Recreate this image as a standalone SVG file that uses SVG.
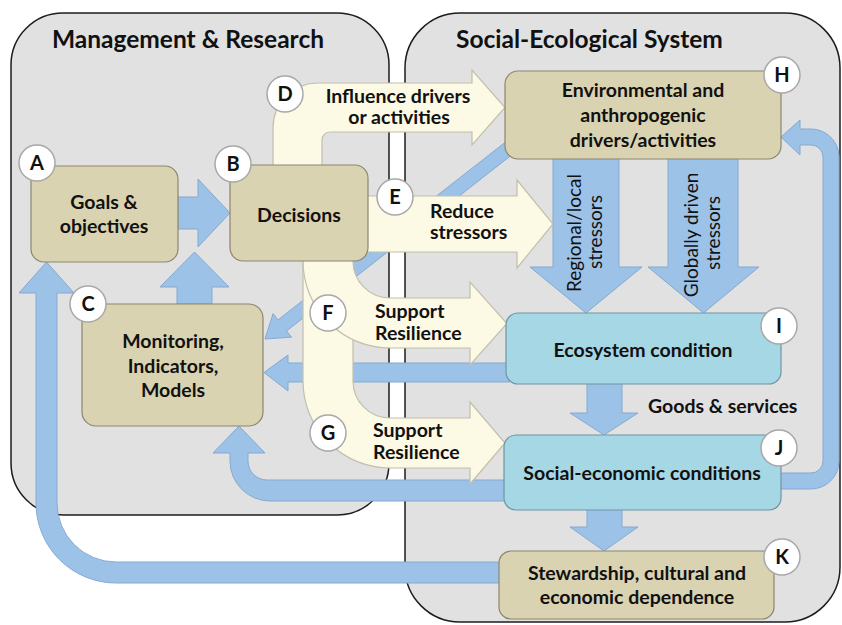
<svg xmlns="http://www.w3.org/2000/svg" width="842" height="625" viewBox="0 0 842 625">
<style>
  .panel{fill:#e1e1e1;stroke:#1c1c1c;stroke-width:1.5}
  .ba{fill:#9dc2e8;stroke:#86a9d0;stroke-width:1}
  .ya{fill:#fcf9e5;stroke:#c2bfae;stroke-width:1.2}
  .tan{fill:#dad3b1;stroke:#8c8670;stroke-width:1.2}
  .blu{fill:#a6d7e5;stroke:#6f96a3;stroke-width:1.2}
  .circ{fill:#ffffff;stroke:#a8a8a8;stroke-width:1.5}
  text{font-family:Lato,"Open Sans","Liberation Sans",sans-serif;fill:#111}
  .t{font-size:19.5px;font-weight:700}
  .title{font-size:24.5px;font-weight:700}
  .lt{font-size:20px;font-weight:700;text-anchor:middle}
  .c{text-anchor:middle}
  .rot{font-size:19px;font-weight:400;text-anchor:middle}
</style>

<g id="panels">
  <rect class="panel" x="11" y="13" width="378" height="502" rx="52" ry="52"/>
  <rect class="panel" x="405" y="13" width="435" height="609" rx="55" ry="55"/>
  <text class="title" x="52" y="48">Management &amp; Research</text>
  <text class="title" x="456" y="48">Social-Ecological System</text>
</g>

<g id="connectors">
  <!-- blue arrows -->
  <polygon class="ba" points="178,197 198,197 198,179 230,213 198,247 198,229 178,229"/>
  <polygon class="ba" points="177,304 177,287 160,287 194.5,252 229,287 212,287 212,304"/>
  <path class="ba" d="M505 562 L116 562 A59 59 0 0 1 57 503 L57 293 L74 293 L46.5 262 L19 293 L36 293 L36 503 A80 80 0 0 0 116 583 L505 583 Z"/>
  <path class="ba" d="M510 480 L267 480 A19 19 0 0 1 248 461 L248 453 L265 453 L239 426 L213 453 L230 453 L230 461 A40 40 0 0 0 270 501 L510 501 Z"/>
  <polygon class="ba" points="510,363 288,363 288,355 264,372.5 288,391 288,382 510,382"/>
  <polygon class="ba" points="520.7,130.2 278,319.9 273.1,313.6 265,339 291.5,337.2 286.6,330.9 529.3,141.2"/>
  <polygon class="ba" points="553,150 553,267 530,267 586,313 642,267 619,267 619,150"/>
  <polygon class="ba" points="668,150 668,267 648,267 703.5,313 759,267 738,267 738,150"/>
  <polygon class="ba" points="587,378 587,413 570,413 604,435 638,413 622,413 622,378"/>
  <polygon class="ba" points="587,505 587,527 570,527 604,551 638,527 622,527 622,505"/>
  <path class="ba" d="M775 473 L811 473 A12 12 0 0 0 823 461 L823 157 A12 12 0 0 0 811 145 L800 145 L800 155 L781 137 L800 120 L800 129 L811 129 A28 28 0 0 1 839 157 L839 461 A28 28 0 0 1 811 489 L775 489 Z"/>
  <!-- yellow arrows -->
  <path class="ya" d="M273 175 L273 128 A45 45 0 0 1 318 83 L472 83 L472 70 L505 107.5 L472 145 L472 132 L330 132 A8 8 0 0 0 322 140 L322 175 Z"/>
  <polygon class="ya" points="360,196 517,196 517,180 553,224 517,268 517,252 360,252"/>
  <path class="ya" d="M303 250 L303 381 A87 87 0 0 0 390 468 L470 468 L470 484 L505 443 L470 402 L470 418 L390 418 A37 37 0 0 1 353 381 L353 250 Z"/>
  <path class="ya" d="M303 250 L303 261 A87 87 0 0 0 390 348 L470 348 L470 365 L507 323.5 L470 282 L470 298 L390 298 A37 37 0 0 1 353 261 L353 250 Z"/>
  <!-- arrow labels -->
  <text class="t c" x="398" y="103">Influence drivers</text>
  <text class="t c" x="399" y="124">or activities</text>
  <text class="t" x="430" y="218">Reduce</text>
  <text class="t" x="430" y="239">stressors</text>
  <text class="t" x="375" y="318">Support</text>
  <text class="t" x="375" y="340">Resilience</text>
  <text class="t" x="373" y="437">Support</text>
  <text class="t" x="373" y="459">Resilience</text>
  <text class="rot" transform="translate(581,233) rotate(-90)">Regional/local</text>
  <text class="rot" transform="translate(602,232) rotate(-90)">stressors</text>
  <text class="rot" transform="translate(698,235) rotate(-90)">Globally driven</text>
  <text class="rot" transform="translate(720,233) rotate(-90)">stressors</text>
  <text class="t" x="648" y="413">Goods &amp; services</text>
</g>

<g id="A">
  <rect class="tan" x="31" y="166" width="147" height="96" rx="13"/>
  <text class="t c" x="104" y="209">Goals &amp;</text>
  <text class="t c" x="104" y="233">objectives</text>
  <circle class="circ" cx="37" cy="163" r="18"/>
  <text class="lt" x="37" y="170">A</text>
</g>
<g id="B">
  <rect class="tan" x="230" y="165" width="138" height="96" rx="13"/>
  <text class="t c" x="299" y="222">Decisions</text>
  <circle class="circ" cx="233" cy="164" r="18"/>
  <text class="lt" x="233" y="171">B</text>
</g>
<g id="C">
  <rect class="tan" x="82" y="304" width="181" height="122" rx="14"/>
  <text class="t c" x="173" y="348">Monitoring,</text>
  <text class="t c" x="173" y="373">Indicators,</text>
  <text class="t c" x="173" y="397">Models</text>
  <circle class="circ" cx="88" cy="304" r="18"/>
  <text class="lt" x="88" y="311">C</text>
</g>
<g id="D">
  <circle class="circ" cx="285" cy="94" r="18"/>
  <text class="lt" x="285" y="101">D</text>
</g>
<g id="E">
  <circle class="circ" cx="395" cy="197" r="18"/>
  <text class="lt" x="395" y="204">E</text>
</g>
<g id="F">
  <circle class="circ" cx="328" cy="313" r="18"/>
  <text class="lt" x="328" y="320">F</text>
</g>
<g id="G">
  <circle class="circ" cx="328" cy="433" r="18"/>
  <text class="lt" x="328" y="440">G</text>
</g>
<g id="H">
  <rect class="tan" x="505" y="71" width="276" height="88" rx="13"/>
  <text class="t c" x="643" y="97">Environmental and</text>
  <text class="t c" x="643" y="122">anthropogenic</text>
  <text class="t c" x="643" y="147">drivers/activities</text>
  <circle class="circ" cx="782" cy="75" r="18"/>
  <text class="lt" x="782" y="82">H</text>
</g>
<g id="I">
  <rect class="blu" x="506" y="313" width="275" height="71" rx="12"/>
  <text class="t c" x="643" y="357">Ecosystem condition</text>
  <circle class="circ" cx="779" cy="326" r="18"/>
  <text class="lt" x="779" y="333">I</text>
</g>
<g id="J">
  <rect class="blu" x="504" y="435" width="277" height="75" rx="12"/>
  <text class="t c" x="642" y="480">Social-economic conditions</text>
  <circle class="circ" cx="779" cy="448" r="18"/>
  <text class="lt" x="779" y="455">J</text>
</g>
<g id="K">
  <rect class="tan" x="499" y="551" width="275" height="68" rx="12"/>
  <text class="t c" x="637" y="580">Stewardship, cultural and</text>
  <text class="t c" x="637" y="604">economic dependence</text>
  <circle class="circ" cx="782" cy="557" r="18"/>
  <text class="lt" x="782" y="564">K</text>
</g>
</svg>
